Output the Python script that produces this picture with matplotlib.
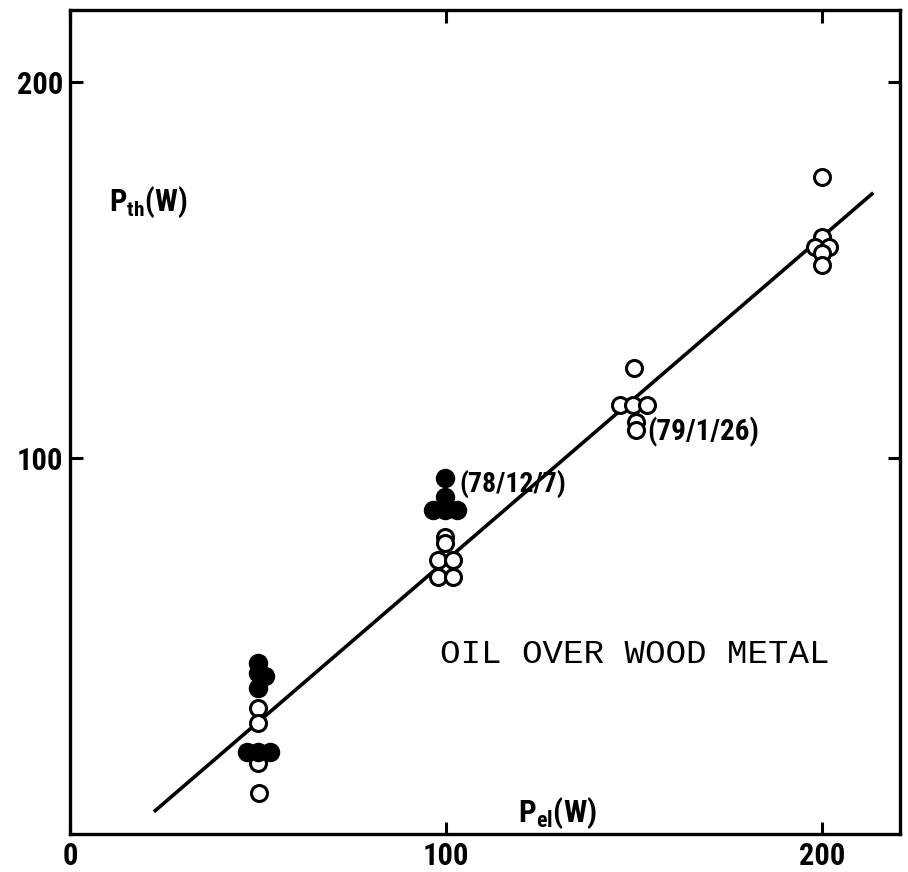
import matplotlib
matplotlib.use("Agg")
import matplotlib.pyplot as plt
from matplotlib import font_manager

# ---- data ----
open_x = [50.0, 50.0, 50.0, 50.3,
          99.7, 99.7, 97.9, 101.9, 97.9, 101.9,
          150.0, 146.3, 149.7, 153.5, 150.5, 150.5,
          200.0, 200.0, 198.1, 201.9, 200.0, 200.0]
open_y = [33.5, 29.5, 18.9, 10.9,
          79.0, 77.4, 72.9, 72.9, 68.4, 68.4,
          123.9, 114.1, 114.1, 114.1, 109.5, 107.5,
          174.7, 158.8, 156.1, 156.1, 154.5, 151.3]
filled_x = [50.0, 50.0, 51.9, 50.0, 47.1, 50.0, 53.2,
            99.7, 99.7, 96.5, 99.7, 102.9]
filled_y = [45.5, 42.8, 42.0, 38.8, 21.8, 21.8, 21.8,
            94.7, 89.6, 86.2, 86.2, 86.2]
fit_x = [22.3, 213.6]
fit_y = [5.9, 170.5]

xticks = [0, 100, 200]
yticks = [100, 200]

avail = {f.name for f in font_manager.fontManager.ttflist}
narrow = None
for cand in ['Roboto Condensed', 'Liberation Sans Narrow', 'Open Sans Condensed',
             'Roboto', 'Liberation Sans']:
    if cand in avail:
        narrow = cand
        break
if narrow is None:
    narrow = 'DejaVu Sans'
is_narrow = narrow in ('Roboto Condensed', 'Liberation Sans Narrow', 'Open Sans Condensed')
tsize = 22 if is_narrow else 19
lsize = 22 if is_narrow else 19
asize = 20 if is_narrow else 17

plt.rcParams['font.family'] = [narrow, 'DejaVu Sans']
plt.rcParams['mathtext.fontset'] = 'custom'
plt.rcParams['mathtext.rm'] = f'{narrow}:bold'
plt.rcParams['mathtext.it'] = f'{narrow}:bold'
plt.rcParams['mathtext.bf'] = f'{narrow}:bold'

fig = plt.figure(figsize=(9.08, 8.72), dpi=100)
ax = fig.add_axes([70/908, 38/872, 830/908, 824/872])

ax.plot(fit_x, fit_y, color='black', lw=2.6, solid_capstyle='butt', zorder=2)
ax.plot(open_x, open_y, 'o', ms=11.5, mfc='white', mec='black', mew=2.2,
        linestyle='none', zorder=3)
ax.plot(filled_x, filled_y, 'o', ms=12.5, mfc='black', mec='black', mew=1.5,
        linestyle='none', zorder=4)

ax.set_xlim(0, 220.7)
ax.set_ylim(0, 219.1)
ax.set_xticks(xticks)
ax.set_yticks(yticks)
ax.set_xticklabels([str(t) for t in xticks], fontsize=tsize, fontweight='bold')
ax.set_yticklabels([str(t) for t in yticks], fontsize=tsize, fontweight='bold')
ax.tick_params(direction='in', length=9, width=2.2, top=True, right=True,
               labeltop=False, labelright=False, pad=5)
for s in ax.spines.values():
    s.set_linewidth(2.4)

ax.text(10.5, 168, r'$\mathrm{P_{th}(W)}$', fontsize=lsize, ha='left', va='center')
ax.text(119.0, 5.5, r'$\mathrm{P_{el}(W)}$', fontsize=lsize + 0.5, ha='left', va='center')
ax.text(98.5, 47.8, 'OIL OVER WOOD METAL', fontsize=24.6,
        family=['Liberation Mono', 'DejaVu Sans Mono'], ha='left', va='center')
ax.text(103.5, 93.0, '(78/12/7)', fontsize=asize, fontweight='bold', ha='left', va='center')
ax.text(153.5, 107.0, '(79/1/26)', fontsize=asize + 1, fontweight='bold', ha='left', va='center')

fig.savefig('out.png', dpi=100)
